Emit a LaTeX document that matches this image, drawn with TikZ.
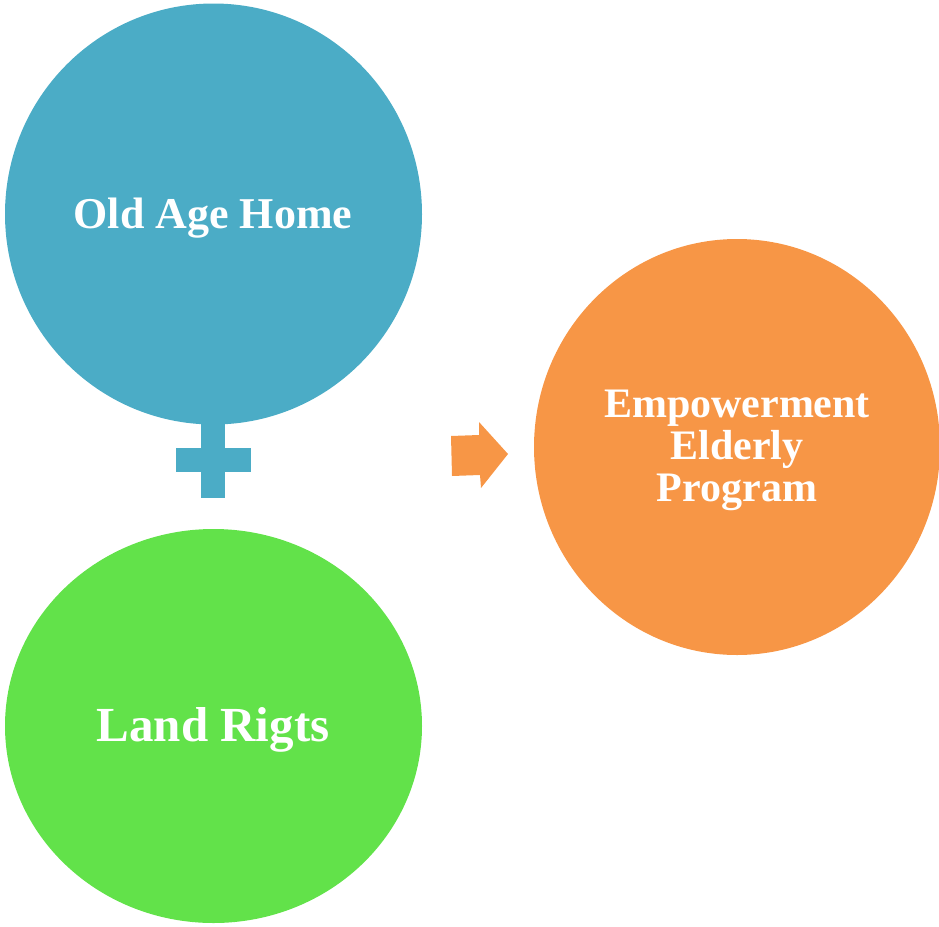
\documentclass[tikz,border=0pt]{standalone}
\usepackage{fontspec}
\setmainfont{Liberation Serif}
\usetikzlibrary{shapes.geometric}
\definecolor{cblue}{HTML}{4BACC6}
\definecolor{cgreen}{HTML}{62E24A}
\definecolor{corange}{HTML}{F79646}
\begin{document}
\begin{tikzpicture}[x=1pt,y=-1pt,
  blob/.style={ellipse, inner sep=0pt, draw=none},
  lbl/.style={text=white, anchor=base, inner sep=0pt, font=\bfseries}]
\useasboundingbox (0,0) rectangle (939,926);
\node[blob, fill=cblue, minimum width=417pt, minimum height=421pt] (old) at (213.5,214) {};
\node[blob, fill=cgreen, minimum width=417pt, minimum height=394pt] (land) at (213.5,726) {};
\node[blob, fill=corange, minimum width=406pt, minimum height=416pt] (emp) at (737,447) {};
% plus sign
\fill[cblue] (201,418) rectangle (225,498);
\fill[cblue] (176,448) rectangle (251,472);
% arrow
\fill[corange] (451,436) -- (479,435) -- (479,422) -- (508,454) -- (481,488) -- (480,475) -- (452,476) -- cycle;
% labels
\node[lbl, font=\bfseries\fontsize{44}{50}\selectfont] (t1) at (213,228) {Old Age Home};
\node[lbl, font=\bfseries\fontsize{49}{56}\selectfont] (t2) at (213,741) {Land Rigts};
\node[lbl, font=\bfseries\fontsize{42}{48}\selectfont] (t3a) at (737,417) {Empowerment};
\node[lbl, font=\bfseries\fontsize{42}{48}\selectfont] (t3b) at (737,459) {Elderly};
\node[lbl, font=\bfseries\fontsize{42}{48}\selectfont] (t3c) at (737,501) {Program};
\end{tikzpicture}
\end{document}
